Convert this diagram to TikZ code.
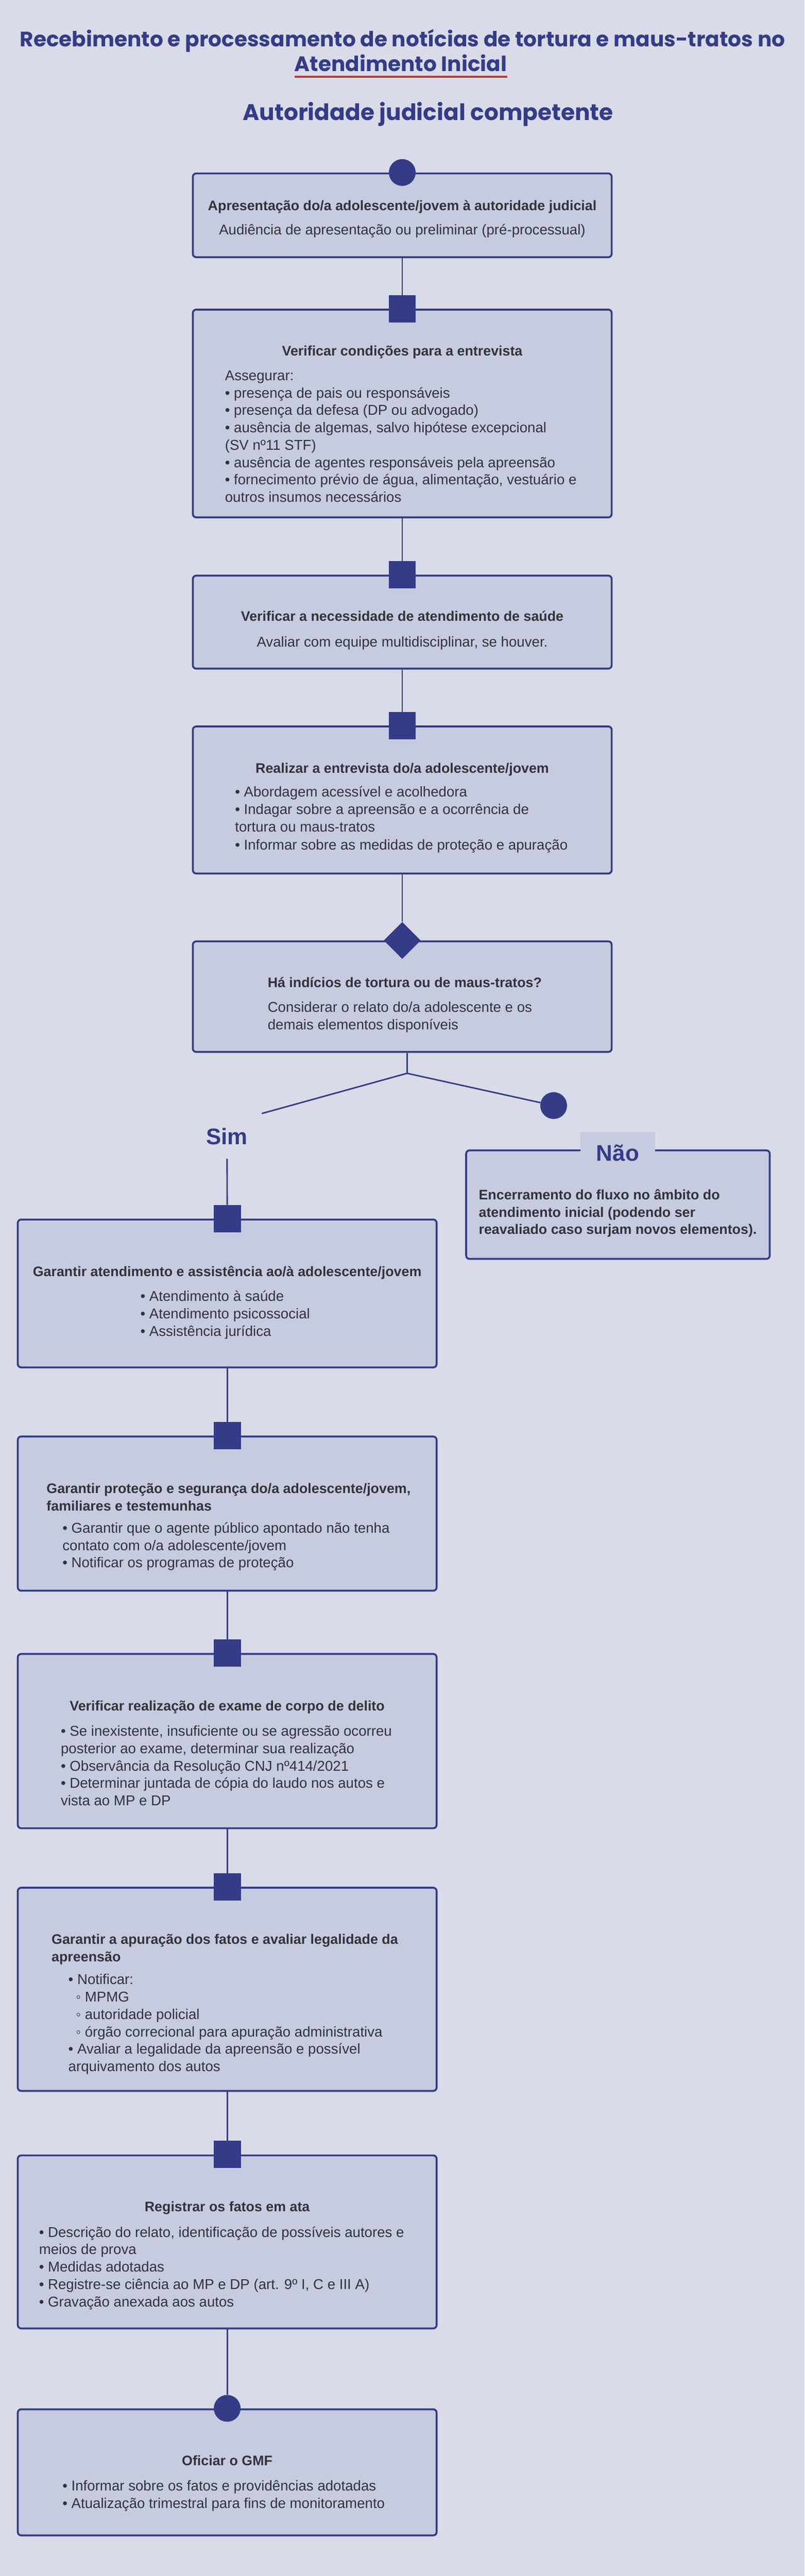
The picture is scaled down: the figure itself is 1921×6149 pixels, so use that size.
\documentclass[tikz,border=0pt]{standalone}
\usepackage{fontspec}
\setmainfont{Liberation Sans}
\newfontfamily\titlefont{Poppins}
\usepackage{tikz}
\usetikzlibrary{positioning}
\usetikzlibrary{shapes.geometric}
\definecolor{pagebg}{RGB}{218,219,232}
\definecolor{boxfill}{RGB}{198,203,224}
\definecolor{navy}{RGB}{52,60,135}
\definecolor{inkgray}{RGB}{50,50,58}
\definecolor{redline}{RGB}{184,58,58}
\begin{document}
\begin{tikzpicture}
[
x=1pt, y=-1pt,
step-box/.style={draw=navy, fill=boxfill, line width=4.5pt, rounded corners=8pt, minimum width=1000pt, inner sep=0pt},
mark-sq/.style={rectangle, fill=navy, minimum size=65pt, inner sep=0pt},
mark-dot/.style={circle, fill=navy, minimum size=64pt, inner sep=0pt},
mark-dia/.style={diamond, fill=navy, minimum width=88pt, minimum height=88pt, inner sep=0pt},
conn-a/.style={draw=navy, line width=3.5pt},
title-a/.style={text=navy, inner sep=0pt, anchor=base, font=\titlefont\bfseries\fontsize{50}{58}\selectfont},
head-a/.style={text=inkgray, inner sep=0pt, anchor=base, align=center, font=\bfseries\fontsize{33}{41}\selectfont},
head-l/.style={head-a, anchor=base west, align=left},
body-a/.style={text=inkgray, inner sep=0pt, anchor=base west, align=left, font=\fontsize{34}{41.5}\selectfont},
body-c/.style={body-a, anchor=base, align=center},
label-a/.style={text=navy, inner sep=0pt, font=\bfseries\fontsize{54}{60}\selectfont},
]
\fill[pagebg] (0,0) rectangle (1921,6149);
\useasboundingbox (0,0) rectangle (1921,6149);

\node (tl1) [title-a] at (961,111) {Recebimento e processamento de notícias de tortura e maus-tratos no};
\node (tl2) [title-a] at (957,170) {Atendimento Inicial};
\draw [redline, line width=5pt] ([yshift=-13pt]tl2.base west) -- ([yshift=-13pt]tl2.base east);
\node (tl3) [title-a, font=\titlefont\bfseries\fontsize{54}{60}\selectfont] at (1022,287) {Autoridade judicial competente};

\node (b1)  [step-box, minimum height=200pt] at (960.5,514)    {};
\node (b2)  [step-box, minimum height=496pt] at (960.5,987)    {};
\node (b3)  [step-box, minimum height=222pt] at (960.5,1485)   {};
\node (b4)  [step-box, minimum height=351pt] at (960.5,1909.5) {};
\node (b5)  [step-box, minimum height=264pt] at (960.5,2379)   {};
\node (nao) [step-box, minimum height=259pt, minimum width=725pt] at (1475.5,2875.5) {};
\node (b6)  [step-box, minimum height=353pt] at (542.5,3087.5) {};
\node (b7)  [step-box, minimum height=368pt] at (542.5,3613)   {};
\node (b8)  [step-box, minimum height=416pt] at (542.5,4156)   {};
\node (b9)  [step-box, minimum height=485pt] at (542.5,4748.5) {};
\node (b10) [step-box, minimum height=413pt] at (542.5,5351.5) {};
\node (b11) [step-box, minimum height=301pt] at (542.5,5901.5) {};

\node (m1)  [mark-dot] at (b1.north)  {};
\node (m2)  [mark-sq]  at (b2.north)  {};
\node (m3)  [mark-sq]  at (b3.north)  {};
\node (m4)  [mark-sq]  at (b4.north)  {};
\node (m5)  [mark-dia] at (b5.north)  {};
\node (m6)  [mark-sq]  at (b6.north)  {};
\node (m7)  [mark-sq]  at (b7.north)  {};
\node (m8)  [mark-sq]  at (b8.north)  {};
\node (m9)  [mark-sq]  at (b9.north)  {};
\node (m10) [mark-sq]  at (b10.north) {};
\node (m11) [mark-dot] at (b11.north) {};
\node (mn)  [mark-dot] at (1322,2639) {};

\node (sim)     [label-a] at (542,2713) {Sim};
\node (nao-lab) [label-a, fill=boxfill, minimum width=179pt, minimum height=100pt, anchor=north] at (1475,2702) {Não};

\coordinate (fork) at (972,2562);
\coordinate (sim-end) at (625,2658);
\draw [conn-a] (b1.south) -- (m2.north);
\draw [conn-a] (b2.south) -- (m3.north);
\draw [conn-a] (b3.south) -- (m4.north);
\draw [conn-a] (b4.south) -- (m5.north);
\draw [conn-a] (b5.south -| fork) -- (fork);
\draw [conn-a] (fork) -- (sim-end);
\draw [conn-a] (fork) -- (mn);
\draw [conn-a, shorten <=33pt] (sim.south) -- (m6.north);
\draw [conn-a] (b6.south) -- (m7.north);
\draw [conn-a] (b7.south) -- (m8.north);
\draw [conn-a] (b8.south) -- (m9.north);
\draw [conn-a] (b9.south) -- (m10.north);
\draw [conn-a] (b10.south) -- (m11.north);

\node (h1) [head-a] at (960.5,502) {Apresentação do/a adolescente/jovem à autoridade judicial};
\node (t1) [body-c] at (960.5,560) {Audiência de apresentação ou preliminar (pré-processual)};

\node (h2) [head-a] at (960.5,849) {Verificar condições para a entrevista};
\node (t2) [body-a] at (537,1198.5) {Assegurar:\\
• presença de pais ou responsáveis\\
• presença da defesa (DP ou advogado)\\
• ausência de algemas, salvo hipótese excepcional\\
(SV nº11 STF)\\
• ausência de agentes responsáveis pela apreensão\\
• fornecimento prévio de água, alimentação, vestuário e\\
outros insumos necessários};

\node (h3) [head-a] at (960.5,1483) {Verificar a necessidade de atendimento de saúde};
\node (t3) [body-c] at (960.5,1544) {Avaliar com equipe multidisciplinar, se houver.};

\node (h4) [head-a] at (960.5,1845) {Realizar a entrevista do/a adolescente/jovem};
\node (t4) [body-a, font=\fontsize{34}{42}\selectfont] at (561,2028) {• Abordagem acessível e acolhedora\\
• Indagar sobre a apreensão e a ocorrência de\\
tortura ou maus-tratos\\
• Informar sobre as medidas de proteção e apuração};

\node (h5) [head-l] at (639,2357) {Há indícios de tortura ou de maus-tratos?};
\node (t5) [body-a] at (639,2457.5) {Considerar o relato do/a adolescente e os\\
demais elementos disponíveis};

\node (tn) [head-l] at (1143,2946) {Encerramento do fluxo no âmbito do\\
atendimento inicial (podendo ser\\
reavaliado caso surjam novos elementos).};

\node (h6) [head-a] at (542.5,3047) {Garantir atendimento e assistência ao/à adolescente/jovem};
\node (t6) [body-a] at (335,3189) {• Atendimento à saúde\\
• Atendimento psicossocial\\
• Assistência jurídica};

\node (h7) [head-l] at (111,3606) {Garantir proteção e segurança do/a adolescente/jovem,\\
familiares e testemunhas};
\node (t7) [body-a] at (149,3742) {• Garantir que o agente público apontado não tenha\\
contato com o/a adolescente/jovem\\
• Notificar os programas de proteção};

\node (h8) [head-a] at (542.5,4083) {Verificar realização de exame de corpo de delito};
\node (t8) [body-a] at (145,4310) {• Se inexistente, insuficiente ou se agressão ocorreu\\
posterior ao exame, determinar sua realização\\
• Observância da Resolução CNJ nº414/2021\\
• Determinar juntada de cópia do laudo nos autos e\\
vista ao MP e DP};

\node (h9) [head-l] at (123,4682) {Garantir a apuração dos fatos e avaliar legalidade da\\
apreensão};
\node (t9) [body-a] at (163,4944.5) {• Notificar:\\
\hspace*{18pt}◦ MPMG\\
\hspace*{18pt}◦ autoridade policial\\
\hspace*{18pt}◦ órgão correcional para apuração administrativa\\
• Avaliar a legalidade da apreensão e possível\\
arquivamento dos autos};

\node (h10) [head-a] at (542.5,5279) {Registrar os fatos em ata};
\node (t10) [body-a] at (93,5506) {• Descrição do relato, identificação de possíveis autores e\\
meios de prova\\
• Medidas adotadas\\
• Registre-se ciência ao MP e DP (art. 9º I, C e III A)\\
• Gravação anexada aos autos};

\node (h11) [head-a] at (542.5,5885) {Oficiar o GMF};
\node (t11) [body-a] at (149,5987.5) {• Informar sobre os fatos e providências adotadas\\
• Atualização trimestral para fins de monitoramento};
\end{tikzpicture}
\end{document}
